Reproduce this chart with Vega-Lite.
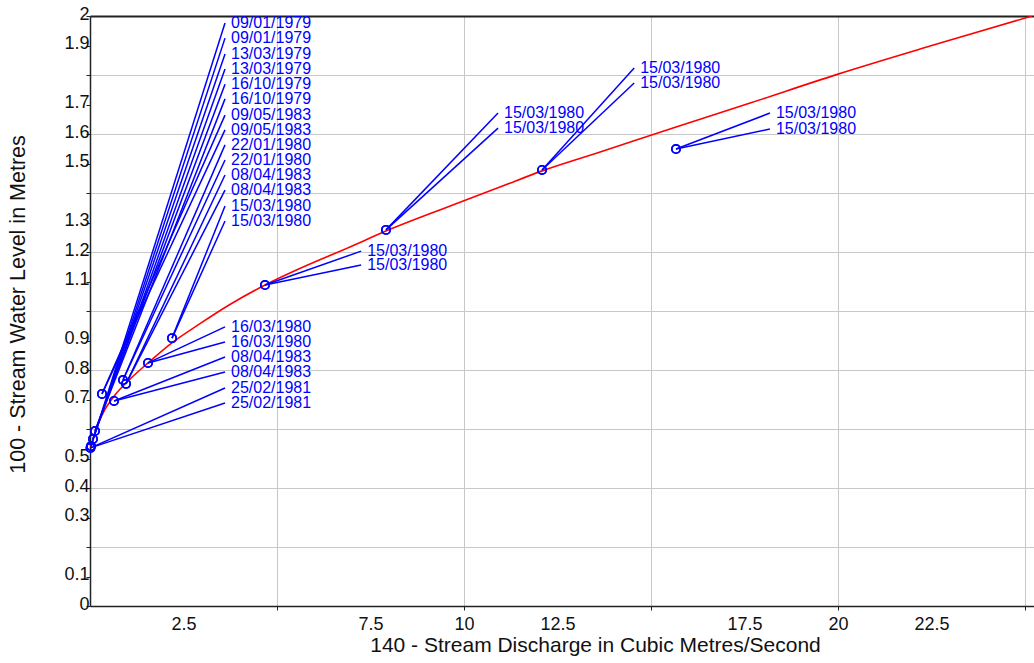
{
  "$schema": "https://vega.github.io/schema/vega-lite/v6.json",
  "width": 944,
  "height": 590,
  "autosize": {"type": "none"},
  "padding": {"left": 90, "top": 16, "right": 0, "bottom": 57},
  "background": "white",
  "config": {
    "view": {"stroke": null},
    "font": "Liberation Sans",
    "axis": {"labelFont": "Liberation Sans", "titleFont": "Liberation Sans", "labelColor": "#111", "titleColor": "#111", "titleFontWeight": "normal"}
  },
  "datasets": {
    "curve": [
      {"q": 0.027, "h": 0.539},
      {"q": 0.134, "h": 0.590},
      {"q": 0.348, "h": 0.654},
      {"q": 0.668, "h": 0.715},
      {"q": 1.07, "h": 0.769},
      {"q": 1.551, "h": 0.824},
      {"q": 2.19, "h": 0.892},
      {"q": 2.94, "h": 0.957},
      {"q": 3.74, "h": 1.022},
      {"q": 4.68, "h": 1.088},
      {"q": 5.61, "h": 1.144},
      {"q": 6.95, "h": 1.217},
      {"q": 7.91, "h": 1.271},
      {"q": 9.63, "h": 1.356},
      {"q": 10.96, "h": 1.420},
      {"q": 12.09, "h": 1.475},
      {"q": 13.64, "h": 1.539},
      {"q": 15.67, "h": 1.624},
      {"q": 17.65, "h": 1.705},
      {"q": 20.0, "h": 1.803},
      {"q": 22.46, "h": 1.898},
      {"q": 25.19, "h": 2.0}
    ],
    "gaugings": [
      {"date": "09/01/1979", "q": 0.027, "h": 0.542, "lq": 3.61, "lh": 1.976},
      {"date": "09/01/1979", "q": 0.027, "h": 0.542, "lq": 3.61, "lh": 1.925},
      {"date": "13/03/1979", "q": 0.08, "h": 0.566, "lq": 3.61, "lh": 1.871},
      {"date": "13/03/1979", "q": 0.08, "h": 0.566, "lq": 3.61, "lh": 1.820},
      {"date": "16/10/1979", "q": 0.134, "h": 0.593, "lq": 3.61, "lh": 1.769},
      {"date": "16/10/1979", "q": 0.134, "h": 0.593, "lq": 3.61, "lh": 1.719},
      {"date": "09/05/1983", "q": 0.321, "h": 0.719, "lq": 3.61, "lh": 1.664},
      {"date": "09/05/1983", "q": 0.321, "h": 0.719, "lq": 3.61, "lh": 1.614},
      {"date": "22/01/1980", "q": 0.882, "h": 0.766, "lq": 3.61, "lh": 1.563},
      {"date": "22/01/1980", "q": 0.882, "h": 0.766, "lq": 3.61, "lh": 1.512},
      {"date": "08/04/1983", "q": 0.963, "h": 0.753, "lq": 3.61, "lh": 1.461},
      {"date": "08/04/1983", "q": 0.963, "h": 0.753, "lq": 3.61, "lh": 1.410},
      {"date": "15/03/1980", "q": 2.193, "h": 0.908, "lq": 3.61, "lh": 1.356},
      {"date": "15/03/1980", "q": 2.193, "h": 0.908, "lq": 3.61, "lh": 1.305},
      {"date": "16/03/1980", "q": 1.551, "h": 0.824, "lq": 3.61, "lh": 0.946},
      {"date": "16/03/1980", "q": 1.551, "h": 0.824, "lq": 3.61, "lh": 0.895},
      {"date": "08/04/1983", "q": 0.642, "h": 0.695, "lq": 3.61, "lh": 0.844},
      {"date": "08/04/1983", "q": 0.642, "h": 0.695, "lq": 3.61, "lh": 0.793},
      {"date": "25/02/1981", "q": 0.013, "h": 0.536, "lq": 3.61, "lh": 0.739},
      {"date": "25/02/1981", "q": 0.013, "h": 0.536, "lq": 3.61, "lh": 0.688},
      {"date": "15/03/1980", "q": 4.679, "h": 1.088, "lq": 7.25, "lh": 1.203},
      {"date": "15/03/1980", "q": 4.679, "h": 1.088, "lq": 7.25, "lh": 1.156},
      {"date": "15/03/1980", "q": 7.914, "h": 1.275, "lq": 10.91, "lh": 1.671},
      {"date": "15/03/1980", "q": 7.914, "h": 1.275, "lq": 10.91, "lh": 1.620},
      {"date": "15/03/1980", "q": 12.086, "h": 1.478, "lq": 14.55, "lh": 1.824},
      {"date": "15/03/1980", "q": 12.086, "h": 1.478, "lq": 14.55, "lh": 1.773},
      {"date": "15/03/1980", "q": 15.668, "h": 1.549, "lq": 18.18, "lh": 1.671},
      {"date": "15/03/1980", "q": 15.668, "h": 1.549, "lq": 18.18, "lh": 1.617}
    ]
  },
  "resolve": {"axis": {"x": "independent", "y": "independent"}},
  "layer": [
    {
      "data": {"name": "curve"},
      "mark": {"type": "line", "color": "#ff0000", "strokeWidth": 1.6, "clip": true, "interpolate": "monotone"},
      "encoding": {
        "x": {"field": "q", "type": "quantitative", "scale": {"domain": [0, 25.24], "nice": false, "zero": false},
          "axis": {"orient": "bottom", "values": [5, 10, 15, 20, 25], "grid": true, "gridColor": "#c8c8c8", "gridWidth": 1, "ticks": true, "tickSize": 4, "tickColor": "#222", "labels": false, "domain": true, "domainColor": "#222", "domainWidth": 1.5, "title": null}},
        "y": {"field": "h", "type": "quantitative", "scale": {"domain": [0, 2], "nice": false, "zero": false},
          "axis": {"orient": "left", "values": [0.2, 0.4, 0.6, 0.8, 1.0, 1.2, 1.4, 1.6, 1.8], "grid": true, "gridColor": "#c8c8c8", "gridWidth": 1, "ticks": false, "labels": false, "domain": true, "domainColor": "#222", "domainWidth": 1.5, "title": null}}
      }
    },
    {
      "data": {"name": "gaugings"},
      "mark": {"type": "rule", "color": "#0000ff", "strokeWidth": 1.5},
      "encoding": {
        "x": {"field": "q", "type": "quantitative",
          "axis": {"orient": "bottom", "values": [2.5, 7.5, 10, 12.5, 17.5, 20, 22.5], "grid": false, "ticks": false, "tickSize": 0, "domain": false, "labelFontSize": 18, "labelPadding": 9, "labelFlush": false, "labelOverlap": false,
            "labelExpr": "'' + datum.value",
            "title": "140 - Stream Discharge in Cubic Metres/Second", "titleFontSize": 21, "titleX": 505, "titleY": 39, "titleAlign": "center", "titleBaseline": "middle"}},
        "y": {"field": "h", "type": "quantitative",
          "axis": {"orient": "left", "values": [0, 0.1, 0.2, 0.3, 0.4, 0.5, 0.6, 0.7, 0.8, 0.9, 1.0, 1.1, 1.2, 1.3, 1.4, 1.5, 1.6, 1.7, 1.8, 1.9, 2.0], "grid": false, "ticks": true, "tickSize": 4, "tickColor": "#222", "domain": false, "labelFontSize": 18, "labelPadding": -3, "labelBaseline": "middle", "labelOffset": -2, "labelFlush": false, "labelOverlap": false,
            "labelExpr": "(datum.value == 0.2 || datum.value == 0.6 || datum.value == 1 || datum.value == 1.4 || datum.value == 1.8) ? '' : '' + datum.value",
            "title": "100 - Stream Water Level in Metres", "titleFontSize": 21.5, "titleAngle": -90, "titleX": -72, "titleY": 288, "titleAlign": "center", "titleBaseline": "middle"}},
        "x2": {"field": "lq"},
        "y2": {"field": "lh"}
      }
    },
    {
      "data": {"name": "gaugings"},
      "mark": {"type": "point", "shape": "circle", "filled": false, "color": "#0000ff", "strokeWidth": 1.6, "size": 70, "opacity": 1},
      "encoding": {
        "x": {"field": "q", "type": "quantitative",
          "axis": {"orient": "top", "labels": false, "ticks": false, "grid": false, "domain": true, "domainColor": "#222", "domainWidth": 2, "title": null}},
        "y": {"field": "h", "type": "quantitative", "axis": null}
      }
    },
    {
      "data": {"name": "gaugings"},
      "mark": {"type": "text", "color": "#0000ff", "align": "left", "baseline": "middle", "dx": 6, "fontSize": 16, "font": "Liberation Sans"},
      "encoding": {
        "x": {"field": "lq", "type": "quantitative", "axis": null},
        "y": {"field": "lh", "type": "quantitative", "axis": null},
        "text": {"field": "date", "type": "nominal"}
      }
    }
  ]
}
